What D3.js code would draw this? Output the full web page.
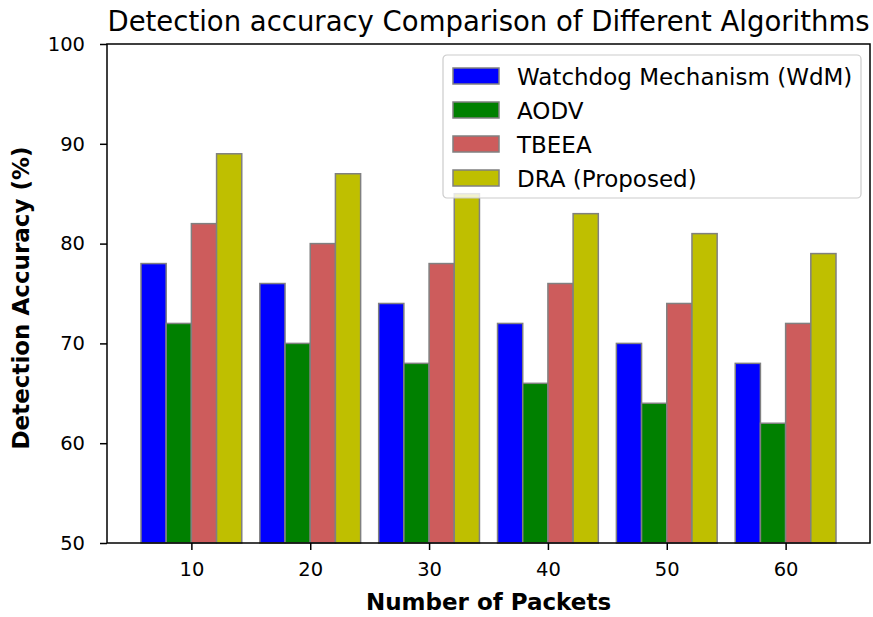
<!DOCTYPE html>
<html>
<head>
<meta charset="utf-8">
<script src="https://cdn.jsdelivr.net/npm/d3@7"></script>
<style>
  body { margin: 0; background: #fff; }
  text { font-family: "DejaVu Sans", sans-serif; fill: #000; }
</style>
</head>
<body>
<div id="wrapper"></div>
<script>
const packets = [10, 20, 30, 40, 50, 60]
const seriesNames = ["Watchdog Mechanism (WdM)", "AODV", "TBEEA", "DRA (Proposed)"]
const wdm = [78, 76, 74, 72, 70, 68]
const aodv = [72, 70, 68, 66, 64, 62]
const tbeea = [82, 80, 78, 76, 74, 72]
const dra = [89, 87, 85, 83, 81, 79]
const yTicks = [50, 60, 70, 80, 90, 100]
const colors = ["#0000ff", "#008000", "#cd5c5c", "#bfbf00"]

const allSeries = [wdm, aodv, tbeea, dra]

let dimensions = {
    width: 873,
    height: 617,
    margin: { top: 44, right: 3, bottom: 74, left: 107 },
}
dimensions.boundedWidth = dimensions.width - dimensions.margin.left - dimensions.margin.right
dimensions.boundedHeight = dimensions.height - dimensions.margin.top - dimensions.margin.bottom

const wrapper = d3.select("#wrapper")
    .append("svg")
    .attr("width", dimensions.width)
    .attr("height", dimensions.height)

const bounds = wrapper.append("g")
    .attr("transform", `translate(${dimensions.margin.left}, ${dimensions.margin.top})`)

// bar width in data units (packets)
const barW = 2.12
const xScale = d3.scaleLinear()
    .domain([2.9, 67.1])
    .range([0, dimensions.boundedWidth])

const yScale = d3.scaleLinear()
    .domain([50, 100])
    .range([dimensions.boundedHeight, 0])

// bars
allSeries.forEach((vals, si) => {
    bounds.append("g")
        .selectAll("rect")
        .data(vals)
        .join("rect")
        .attr("x", (d, i) => xScale(packets[i] + (si - 2) * barW))
        .attr("y", d => yScale(d))
        .attr("width", xScale(barW) - xScale(0))
        .attr("height", d => yScale(50) - yScale(d))
        .attr("fill", colors[si])
        .attr("stroke", "#808080")
        .attr("stroke-width", 1.5)
})

// axes
const yAxis = bounds.append("g")
    .call(d3.axisLeft(yScale).tickValues(yTicks).tickSize(7).tickPadding(15))
const xAxis = bounds.append("g")
    .attr("transform", `translate(0, ${dimensions.boundedHeight})`)
    .call(d3.axisBottom(xScale).tickValues(packets).tickSize(7).tickPadding(12))

;[xAxis, yAxis].forEach(a => {
    a.select(".domain").remove()
    a.selectAll("line").attr("stroke", "#000").attr("stroke-width", 1.5)
    a.selectAll("text").style("font-size", "19.5px").attr("fill", "#000")
})

// frame
bounds.append("rect")
    .attr("width", dimensions.boundedWidth)
    .attr("height", dimensions.boundedHeight)
    .attr("fill", "none")
    .attr("stroke", "#000")
    .attr("stroke-width", 1.5)

// labels
wrapper.append("text")
    .attr("x", dimensions.margin.left + dimensions.boundedWidth / 2)
    .attr("y", 31)
    .attr("text-anchor", "middle")
    .style("font-size", "27.5px")
    .text("Detection accuracy Comparison of Different Algorithms")

wrapper.append("text")
    .attr("x", dimensions.margin.left + dimensions.boundedWidth / 2)
    .attr("y", 610)
    .attr("text-anchor", "middle")
    .style("font-size", "23px")
    .style("font-weight", "bold")
    .text("Number of Packets")

wrapper.append("text")
    .attr("transform", `translate(29, 298) rotate(-90)`)
    .attr("text-anchor", "middle")
    .style("font-size", "23px")
    .style("font-weight", "bold")
    .text("Detection Accuracy (%)")

// legend
const legend = bounds.append("g")
    .attr("transform", `translate(${443 - dimensions.margin.left}, ${55 - dimensions.margin.top})`)

legend.append("rect")
    .attr("width", 418)
    .attr("height", 143)
    .attr("rx", 4)
    .attr("fill", "#fff")
    .attr("fill-opacity", 0.8)
    .attr("stroke", "#cccccc")
    .attr("stroke-width", 1.2)

const items = legend.selectAll("g.item")
    .data(seriesNames)
    .join("g")
    .attr("class", "item")
    .attr("transform", (d, i) => `translate(10, ${21 + i * 34})`)

items.append("rect")
    .attr("y", -8)
    .attr("width", 46)
    .attr("height", 16)
    .attr("fill", (d, i) => colors[i])
    .attr("stroke", "#808080")
    .attr("stroke-width", 1.5)

items.append("text")
    .attr("x", 64)
    .attr("y", 8.5)
    .style("font-size", "23px")
    .attr("fill", "#000")
    .text(d => d)
</script>
</body>
</html>
